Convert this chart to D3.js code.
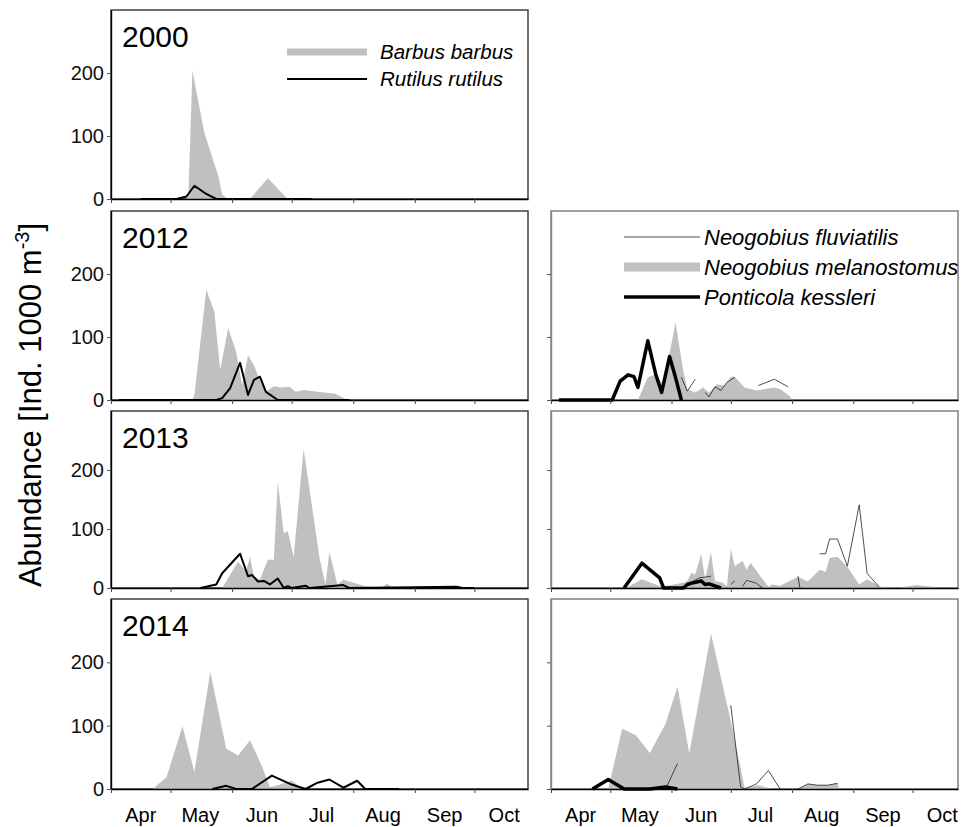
<!DOCTYPE html>
<html>
<head>
<meta charset="utf-8">
<script src="https://cdn.jsdelivr.net/npm/d3@7"></script>
<style>
  body { margin: 0; background: #fff; }
  svg { font-family: Arial, "Liberation Sans", sans-serif; }
</style>
</head>
<body>
<div id="chart"></div>
<script>
"use strict"

// --- data: [month-day, abundance], null = gap in the series ---
const barbus2000 = [["04-16",0],["05-09",0],["05-10",8],["05-12",204],["05-18",105],["05-25",37],["05-27",7],["05-29",2],["05-31",0],
    ["06-10",0],["06-19",33],["06-29",0],["07-11",0]]
const rutilus2000 = [["04-16",0],["05-04",0],["05-09",4],["05-13",21],["05-19",8],["05-24",0],["07-11",0]]

const barbus2012 = [["04-05",0],["05-12",0],["05-13",8],["05-19",175],["05-23",141],["05-26",48],["05-30",114],["06-03",77],
    ["06-06",24],["06-09",71],["06-12",55],["06-16",24],["06-18",13],["06-22",22],["06-26",20],["06-30",21],["07-03",13],
    ["07-07",16],["07-14",13],["07-23",10],["07-29",0],["07-31",0]]
const rutilus2012 = [["04-05",0],["05-24",0],["05-27",3],["05-31",19],["06-05",59],["06-09",8],["06-12",32],["06-15",37],
    ["06-18",13],["06-24",0],["07-30",0]]

const barbus2013 = [["05-27",0],["06-04",45],["06-08",28],["06-10",53],["06-12",19],["06-15",14],["06-19",48],["06-22",48],
    ["06-24",180],["06-27",93],["06-29",96],["07-02",53],["07-07",236],["07-15",51],["07-18",6],["07-20",61],["07-24",6],
    ["07-27",14],["08-02",8],["08-07",3],["08-15",0],["08-18",7],["08-21",0],["09-19",0],["09-22",3],["09-25",0],["10-01",0]]
const rutilus2013 = [["05-16",0],["05-20",3],["05-24",6],["05-27",25],["06-05",58],["06-09",20],["06-11",22],["06-14",11],
    ["06-17",12],["06-20",6],["06-24",16],["06-27",0],["06-29",3],["07-01",0],["07-08",4],["07-10",0],["07-27",5],["07-30",0],
    ["09-22",2],["09-25",0],["10-01",0]]

const barbus2014 = [["04-22",0],["04-29",19],["05-07",99],["05-13",27],["05-21",185],["05-29",64],["06-04",53],["06-10",77],
    ["06-16",36],["06-20",3],["06-24",6],["07-01",13],["07-06",1],["07-08",0]]
const rutilus2014 = [["05-22",0],["05-29",5],["06-03",0],["06-11",0],["06-21",21],["07-01",7],["07-08",0],["07-14",10],
    ["07-20",15],["07-27",2],["08-03",13],["08-07",0],["08-24",0]]

const kessleri2012 = [["04-05",0],["05-02",0],["05-06",30],["05-10",40],["05-13",37],["05-15",20],["05-20",94],["05-24",41],
    ["05-27",12],["05-31",69],["06-03",36],["06-06",0]]
const melanostomus2012 = [["05-15",0],["05-20",36],["05-24",41],["05-28",23],["06-03",123],["06-07",46],["06-09",17],["06-13",12],
    ["06-17",20],["06-20",12],["06-24",25],["06-28",23],["07-01",37],["07-03",37],["07-08",20],["07-14",15],["07-23",20],
    ["07-26",17],["07-31",6],["08-01",0]]
const fluviatilis2012 = [["06-06",36],["06-09",14],["06-13",33],null,["06-18",12],["06-20",5],["06-23",21],["06-26",15],
    ["06-29",28],["07-03",36],null,["07-15",23],["07-23",33],["07-30",21]]

const kessleri2013 = [["05-08",0],["05-17",42],["05-26",17],["05-28",0],["06-07",0],["06-09",6],["06-12",9],["06-16",12],
    ["06-18",6],["06-20",7],["06-26",0]]
const melanostomus2013 = [["05-09",0],["05-17",15],["05-27",2],["06-07",9],["06-09",12],["06-11",26],["06-13",23],["06-16",58],
    ["06-18",15],["06-21",60],["06-23",12],["06-27",9],["06-29",3],["07-01",66],["07-03",37],["07-07",46],["07-09",31],
    ["07-11",43],["07-16",20],["07-20",2],["07-22",6],["07-26",4],["08-04",19],["08-09",11],["08-15",31],["08-18",27],
    ["08-20",51],["08-24",53],["08-29",36],["09-04",6],["09-08",15],["09-15",2],["09-23",0],["10-03",5],["10-11",2]]
const fluviatilis2013 = [["06-09",6],["06-15",17],["06-21",20],null,["07-01",6],["07-03",12],null,["07-07",3],["07-09",13],
    ["07-14",8],["07-17",0],null,["08-04",20],["08-05",0],null,["08-15",58],["08-18",58],["08-20",83],["08-24",83],
    ["08-29",37],["09-04",141],["09-08",25],["09-14",2]]

const kessleri2014 = [["04-22",0],["04-30",15],["05-08",0],["05-21",0],["05-29",3],["06-04",0]]
const melanostomus2014 = [["04-30",0],["05-07",95],["05-14",85],["05-21",57],["05-29",103],["06-04",162],["06-10",56],
    ["06-21",245],["07-02",93],["07-08",2],["07-15",6],["07-22",0],["08-04",0],["08-09",8],["08-14",6],["08-19",6],
    ["08-24",9],["08-25",0]]
const fluviatilis2014 = [["05-29",0],["06-04",40],null,["07-01",132],["07-06",3],["07-08",0],["07-14",8],["07-20",29],
    ["07-26",0],null,["08-04",0],["08-09",8],["08-14",6],["08-19",6],["08-24",9]]

const years = ["2000", "2012", "2013", "2014"]
const yTicks = [0, 100, 200]
const yMax = 300
const legendLeft = ["Barbus barbus", "Rutilus rutilus"]
const legendRight = ["Neogobius fluviatilis", "Neogobius melanostomus", "Ponticola kessleri"]

// --- layout ---
const W = 963, H = 827
const ROWS = [{ top: 10, bottom: 199 }, { top: 211, bottom: 400 }, { top: 411, bottom: 588 }, { top: 599, bottom: 789 }]
const COLS = {
    left: { x0: 111, x1: 528, end: "2001-10-28" },
    right: { x0: 551, x1: 958, end: "2001-10-24" }
}
const GREY = "#c0c0c0"

const parse = d3.timeParse("%Y-%m-%d")
const toPoints = (arr) => arr.map((d) => d === null ? null : { date: parse("2001-" + d[0]), value: d[1] })

const panels = [
    { row: 0, side: "left", year: years[0], area: barbus2000, line: rutilus2000 },
    { row: 1, side: "left", year: years[1], area: barbus2012, line: rutilus2012 },
    { row: 2, side: "left", year: years[2], area: barbus2013, line: rutilus2013 },
    { row: 3, side: "left", year: years[3], area: barbus2014, line: rutilus2014 },
    { row: 1, side: "right", area: melanostomus2012, thin: fluviatilis2012, thick: kessleri2012 },
    { row: 2, side: "right", area: melanostomus2013, thin: fluviatilis2013, thick: kessleri2013 },
    { row: 3, side: "right", area: melanostomus2014, thin: fluviatilis2014, thick: kessleri2014 }
]

const svg = d3.select("#chart").append("svg").attr("width", W).attr("height", H)

panels.forEach((p) => {
    const r = ROWS[p.row]
    const c = COLS[p.side]
    const x = d3.scaleTime().domain([parse("2001-04-01"), parse(c.end)]).range([c.x0, c.x1])
    const y = d3.scaleLinear().domain([0, yMax]).range([r.bottom, r.top])
    const g = svg.append("g")

    // frame
    g.append("rect").attr("x", c.x0).attr("y", r.top)
        .attr("width", c.x1 - c.x0).attr("height", r.bottom - r.top)
        .attr("fill", "none").attr("stroke", p.side === "left" ? "#333" : "#777").attr("stroke-width", 1.4)

    // series
    const area = d3.area().x((d) => x(d.date)).y0(y(0)).y1((d) => y(d.value))
    const line = d3.line().defined((d) => d !== null).x((d) => x(d.date)).y((d) => y(d.value))

    g.append("path").attr("d", area(toPoints(p.area))).attr("fill", GREY)
    if (p.line) {
        g.append("path").attr("d", line(toPoints(p.line))).attr("fill", "none")
            .attr("stroke", "#000").attr("stroke-width", 2).attr("stroke-linejoin", "round")
    }
    if (p.thin) {
        g.append("path").attr("d", line(toPoints(p.thin))).attr("fill", "none")
            .attr("stroke", "#222").attr("stroke-width", 0.8)
    }
    if (p.thick) {
        g.append("path").attr("d", line(toPoints(p.thick))).attr("fill", "none")
            .attr("stroke", "#000").attr("stroke-width", 3.5).attr("stroke-linejoin", "round")
    }

    // axes
    const yAxis = d3.axisLeft(y).tickValues(yTicks).tickSize(4).tickSizeOuter(0)
        .tickFormat(p.side === "left" ? d3.format("d") : "")
    const ya = g.append("g").attr("transform", "translate(" + c.x0 + ",0)").call(yAxis)
    ya.select(".domain").attr("stroke", p.side === "left" ? "#000" : "#888").attr("stroke-width", 1.4)
    ya.selectAll(".tick line").attr("stroke", "#555")
    ya.selectAll(".tick text").attr("font-size", 20).attr("font-family", "Arial, 'Liberation Sans', sans-serif")
        .attr("fill", "#111").attr("x", -7)

    const months = d3.timeMonth.range(parse("2001-04-01"), parse("2001-10-02"))
    const xAxis = d3.axisBottom(x).tickValues(months).tickSize(4).tickSizeOuter(0).tickFormat("")
    const xa = g.append("g").attr("transform", "translate(0," + r.bottom + ")").call(xAxis)
    xa.select(".domain").attr("stroke", "#000").attr("stroke-width", 1.6)
    xa.selectAll(".tick line").attr("stroke", "#444")

    // month labels under the bottom row
    if (p.row === 3) {
        g.selectAll(".month").data(months).enter().append("text")
            .attr("x", (d) => x(d3.timeDay.offset(d, 15)))
            .attr("y", 822).attr("text-anchor", "middle").attr("font-size", 20)
            .text(d3.timeFormat("%b"))
    }

    if (p.year) {
        g.append("text").attr("x", c.x0 + 11).attr("y", r.top + 37)
            .attr("font-size", 30).text(p.year)
    }
})

// legends
const lg = svg.append("g")
lg.append("line").attr("x1", 287).attr("x2", 367).attr("y1", 52).attr("y2", 52)
    .attr("stroke", GREY).attr("stroke-width", 7)
lg.append("line").attr("x1", 287).attr("x2", 367).attr("y1", 79).attr("y2", 79)
    .attr("stroke", "#000").attr("stroke-width", 2)
lg.selectAll(".lt").data(legendLeft).enter().append("text")
    .attr("x", 380).attr("y", (d, i) => 59 + i * 27)
    .attr("font-size", 20.5).attr("font-style", "italic").text((d) => d)

const rg = svg.append("g")
rg.append("line").attr("x1", 624).attr("x2", 700).attr("y1", 237).attr("y2", 237)
    .attr("stroke", "#222").attr("stroke-width", 0.8)
rg.append("line").attr("x1", 624).attr("x2", 700).attr("y1", 267).attr("y2", 267)
    .attr("stroke", GREY).attr("stroke-width", 9)
rg.append("line").attr("x1", 624).attr("x2", 700).attr("y1", 297).attr("y2", 297)
    .attr("stroke", "#000").attr("stroke-width", 3.5)
rg.selectAll(".rt").data(legendRight).enter().append("text")
    .attr("x", 704).attr("y", (d, i) => 245 + i * 30)
    .attr("font-size", 22).attr("font-style", "italic").text((d) => d)

// y axis title
const title = svg.append("text").attr("transform", "translate(41,405) rotate(-90)")
    .attr("text-anchor", "middle").attr("font-size", 31)
title.append("tspan").text("Abundance [Ind. 1000 m")
title.append("tspan").attr("font-size", 20).attr("dy", -12).text("-3")
title.append("tspan").attr("dy", 12).text("]")
</script>
</body>
</html>
